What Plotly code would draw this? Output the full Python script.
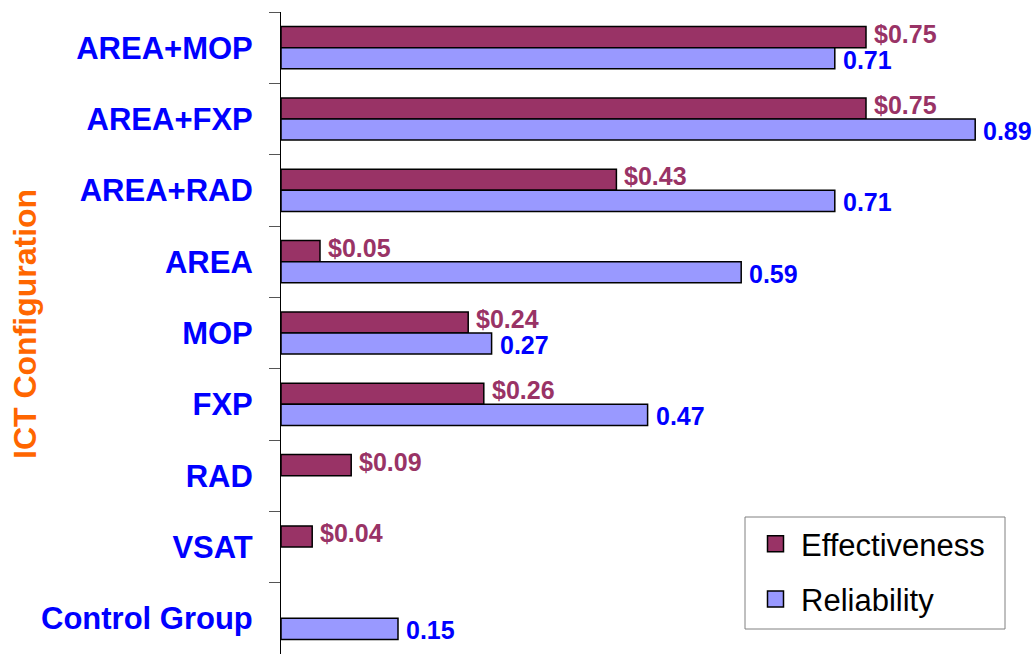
import plotly.graph_objects as go

CATEGORIES = ["AREA+MOP", "AREA+FXP", "AREA+RAD", "AREA", "MOP", "FXP", "RAD", "VSAT", "Control Group"]
EFFECTIVENESS = [0.75, 0.75, 0.43, 0.05, 0.24, 0.26, 0.09, 0.04, None]
RELIABILITY = [0.71, 0.89, 0.71, 0.59, 0.27, 0.47, None, None, 0.15]

FONT = "Arial, 'Liberation Sans', sans-serif"
EFF_COLOR = "#993366"
REL_COLOR = "#9999FF"
EFF_TEXT = "#993366"
REL_TEXT = "#0000FF"

W, H = 1034, 654
ML, MT = 281, 12
PLOT_W, PLOT_H = W - ML, H - MT

fig = go.Figure()
fig.add_trace(go.Bar(y=CATEGORIES, x=EFFECTIVENESS, orientation="h", name="Effectiveness",
                     marker=dict(color=EFF_COLOR, line=dict(color="black", width=1.5)),
                     showlegend=False))
fig.add_trace(go.Bar(y=CATEGORIES, x=RELIABILITY, orientation="h", name="Reliability",
                     marker=dict(color=REL_COLOR, line=dict(color="black", width=1.5)),
                     showlegend=False))

# legend entries
for name, col in [("Effectiveness", EFF_COLOR), ("Reliability", REL_COLOR)]:
    fig.add_trace(go.Scatter(x=[None], y=[None], mode="markers", name=name, legendgroup=name,
                             marker=dict(symbol="square", size=16, color=col,
                                         line=dict(color="black", width=1.5))))

annotations = []
for vals, fmt, col, ys in [(EFFECTIVENESS, "${:.2f}", EFF_TEXT, 14),
                           (RELIABILITY, "{:.2f}", REL_TEXT, -12)]:
    for c, v in zip(CATEGORIES, vals):
        if v is None:
            continue
        annotations.append(dict(x=v, y=c, xref="x", yref="y", text=fmt.format(v),
                                showarrow=False, xanchor="left", yanchor="middle",
                                xshift=6, yshift=ys,
                                font=dict(family=FONT, size=25, color=col, weight="bold")))


def px_x(px):
    return (px - ML) / PLOT_W


def px_y(py):
    return (H - py) / PLOT_H


annotations.append(dict(x=px_x(25), y=px_y(324), xref="paper", yref="paper", text="ICT Configuration",
                        textangle=-90, showarrow=False, xanchor="center", yanchor="middle",
                        font=dict(family=FONT, size=32, color="#FF6600", weight="bold")))

# legend frame
shapes = [dict(type="rect", xref="paper", yref="paper", x0=px_x(745), x1=px_x(1005),
               y0=px_y(629), y1=px_y(517),
               line=dict(color="#808080", width=1), fillcolor="white", layer="above")]

fig.update_layout(
    width=W, height=H,
    margin=dict(l=ML, r=0, t=MT, b=0, autoexpand=False),
    paper_bgcolor="white", plot_bgcolor="white",
    barmode="group", bargap=0.41, bargroupgap=0,
    annotations=annotations,
    shapes=shapes,
    showlegend=True,
    legend=dict(x=px_x(750), y=px_y(517), xanchor="left", yanchor="top",
                borderwidth=0, bgcolor="rgba(0,0,0,0)",
                font=dict(family=FONT, size=31, color="black"),
                traceorder="grouped", tracegroupgap=12, itemwidth=41),
    xaxis=dict(range=[0, PLOT_W / 780], visible=False, showgrid=False, zeroline=False, fixedrange=True),
    yaxis=dict(autorange="reversed", categoryorder="array", categoryarray=CATEGORIES,
               showline=True, linecolor="black", linewidth=1,
               ticks="outside", tickson="boundaries", ticklen=11, tickcolor="#555555", tickwidth=1,
               ticklabelstandoff=21, showgrid=False, zeroline=False,
               tickfont=dict(family=FONT, size=31, color="#0000FF", weight="bold")),
)

fig.write_html("out.html",
               config={"displayModeBar": False},
               post_script="document.body.style.margin='0';"
                           "document.documentElement.style.overflow='hidden';"
                           "document.body.style.overflow='hidden';")
